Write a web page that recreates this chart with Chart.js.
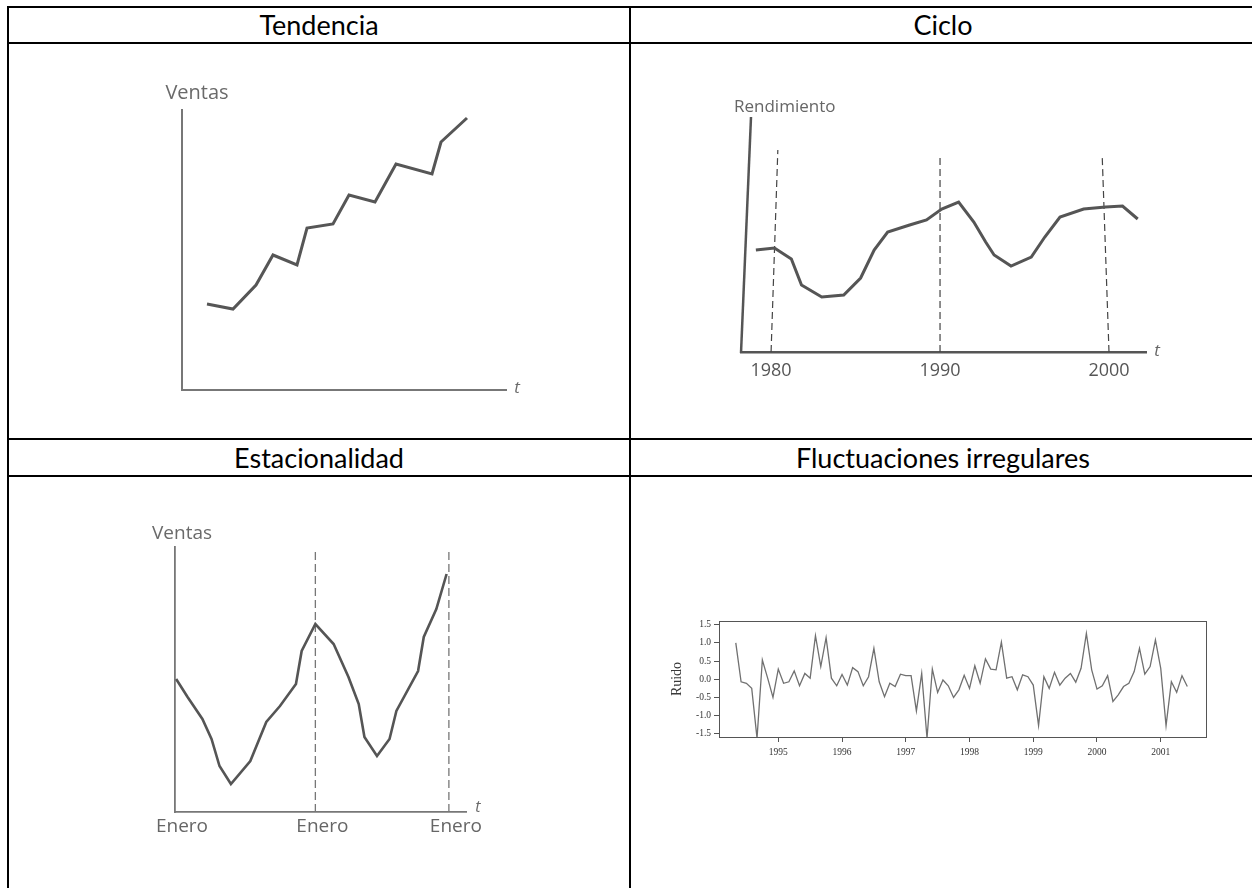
<!DOCTYPE html>
<html lang="es">
<head>
<meta charset="utf-8">
<title>Componentes de una serie de tiempo</title>
<script src="https://cdn.jsdelivr.net/npm/chart.js@4.4.1/dist/chart.umd.min.js"></script>
<style>
  html, body { margin: 0; padding: 0; background: #fff; width: 1252px; height: 888px; overflow: hidden; }
  body { position: relative; font-family: Lato, 'Open Sans', sans-serif; }
  .linea { position: absolute; background: #000; }
  .titulo { position: absolute; text-align: center; font-size: 27px; color: #000; }
  canvas { position: absolute; }
</style>
</head>
<body>
<!-- bordes de la tabla -->
<div class="linea" style="left:7px;top:6px;width:1249px;height:2px"></div>
<div class="linea" style="left:7px;top:6px;width:2px;height:890px"></div>
<div class="linea" style="left:7px;top:42px;width:1249px;height:2px"></div>
<div class="linea" style="left:629px;top:6px;width:2px;height:890px"></div>
<div class="linea" style="left:7px;top:438px;width:1249px;height:2px"></div>
<div class="linea" style="left:7px;top:475px;width:1249px;height:2px"></div>

<div class="titulo" style="left:9px;width:620px;top:8px;line-height:34px">Tendencia</div>
<div class="titulo" style="left:631px;width:624px;top:8px;line-height:34px">Ciclo</div>
<div class="titulo" style="left:9px;width:620px;top:440px;line-height:35px">Estacionalidad</div>
<div class="titulo" style="left:631px;width:624px;top:440px;line-height:35px">Fluctuaciones irregulares</div>

<canvas id="tendencia" width="430" height="360" style="left:120px;top:60px"></canvas>
<canvas id="ciclo" width="500" height="330" style="left:690px;top:70px"></canvas>
<canvas id="estacionalidad" width="400" height="360" style="left:110px;top:500px"></canvas>
<canvas id="ruido" width="580" height="170" style="left:650px;top:600px"></canvas>

<script>
// --- Datos: Tendencia ---
const tendT = [2.5, 5.1, 7.4, 9.1, 11.5, 12.5, 15.1, 16.7, 19.3, 21.4, 25.0, 25.9, 28.5];
const tendVentas = [8.6, 8.1, 10.5, 13.5, 12.5, 16.2, 16.6, 19.5, 18.8, 22.6, 21.6, 24.8, 27.2];

// --- Datos: Ciclo ---
const cicloAnios = [1979.1, 1980.2, 1981.2, 1981.8, 1983.0, 1984.3, 1985.3, 1986.1, 1986.9, 1988.2, 1989.2, 1990.1,
                    1991.1, 1992.0, 1992.7, 1993.2, 1994.2, 1995.4, 1996.2, 1997.1, 1998.5, 1999.8, 2000.8, 2001.7];
const cicloRend = [102, 104, 93, 67, 55, 57, 74, 102, 120, 127, 132, 143,
                   150, 130, 110, 97, 86, 95, 115, 135, 143, 145, 146, 133];
const cicloDecadas = [1980, 1990, 2000];
const cicloEtiquetas = ['1980', '1990', '2000'];
const cicloMarcaTope = [202, 198, 195];
const cicloMarcaInclin = [0.4, 0, -0.4];

// --- Datos: Estacionalidad ---
const estMeses = [0.1, 1.1, 2.4, 3.2, 3.9, 4.9, 6.6, 8.0, 9.2, 10.6, 11.1, 12.3,
                  13.9, 15.2, 16.1, 16.6, 17.7, 18.8, 19.4, 21.3, 21.8, 22.9, 23.8];
const estVentas = [133, 115, 93, 73, 46, 28, 51, 90, 106, 128, 161, 188,
                   168, 135, 108, 75, 56, 73, 101, 141, 175, 203, 238];
const estEneros = [0, 12.3, 24];
const estEtiquetas = ['Enero', 'Enero', 'Enero'];
const estMarcaTope = 262;

// --- Datos: Fluctuaciones irregulares (mensual desde mayo 1994) ---
const ruidoInicio = 1994 + 4 / 12;
const ruido = [1.0, -0.07, -0.11, -0.25, -1.62, 0.53, 0.03, -0.5, 0.28, -0.11, -0.07, 0.23,
               -0.18, 0.16, 0.03, 1.2, 0.35, 1.14, 0.03, -0.18, 0.13, -0.16, 0.32, 0.21,
               -0.18, 0.07, 0.85, -0.07, -0.48, -0.11, -0.2, 0.14, 0.1, 0.1, -0.87, 0.16,
               -1.62, 0.28, -0.36, -0.02, -0.18, -0.5, -0.29, 0.11, -0.25, 0.37, -0.11, 0.56,
               0.28, 0.26, 1.02, 0.03, 0.07, -0.29, 0.12, 0.07, -0.16, -1.27, 0.07, -0.25,
               0.19, -0.16, 0.03, 0.16, -0.08, 0.3, 1.26, 0.26, -0.27, -0.18, 0.1, -0.61,
               -0.43, -0.2, -0.11, 0.21, 0.85, 0.14, 0.35, 1.08, 0.3, -1.27, -0.07, -0.36,
               0.1, -0.2];
const ruidoAnios = [1995, 1996, 1997, 1998, 1999, 2000, 2001];
const ruidoTicks = [-1.5, -1.0, -0.5, 0, 0.5, 1.0, 1.5];

// Plugin para textos sueltos, eje inclinado y marco
const extras = {
    id: 'extras',
    afterDraw(chart, args, opts) {
        const { ctx, chartArea: a } = chart;
        ctx.save();
        if (opts.marco) {
            ctx.strokeStyle = opts.marco;
            ctx.lineWidth = 1;
            ctx.strokeRect(a.left + 0.5, a.top + 0.5, a.right - a.left, a.bottom - a.top);
        }
        if (opts.inclinado) {
            ctx.strokeStyle = opts.inclinado.color;
            ctx.lineWidth = opts.inclinado.ancho;
            ctx.beginPath();
            ctx.moveTo(a.left, a.bottom + 1);
            ctx.lineTo(a.left + opts.inclinado.dx, a.top);
            ctx.stroke();
        }
        (opts.textos || []).forEach(t => {
            ctx.font = t.font;
            ctx.fillStyle = t.color || '#666';
            ctx.textAlign = t.align || 'center';
            ctx.textBaseline = 'middle';
            const x = (t.desde === 'right' ? a.right : a.left) + t.dx;
            const y = (t.desdeY === 'bottom' ? a.bottom : a.top) + t.dy;
            ctx.fillText(t.text, x, y);
        });
        ctx.restore();
    }
};

const sinTicks = { display: false };
const sinGrid = { display: false, drawTicks: false };

function puntos(xs, ys) {
    return xs.map((x, i) => ({ x: x, y: ys[i] }));
}

function opcionesBase(padding, textos, extra) {
    return {
        responsive: false,
        animation: false,
        layout: { padding: padding },
        plugins: {
            legend: { display: false },
            tooltip: { enabled: false },
            extras: Object.assign({ textos: textos }, extra || {})
        }
    };
}

// Tendencia
const optTend = opcionesBase({ top: 50, right: 44, left: 0, bottom: 0 }, [
    { text: 'Ventas', font: '20px "Open Sans"', color: '#6a6a6a', dx: 15, dy: -17 },
    { text: 't', font: 'italic 17px "Open Sans"', color: '#6a6a6a', desde: 'right', desdeY: 'bottom', dx: 11, dy: -2 }
]);
optTend.scales = {
    x: { type: 'linear', min: 0, max: 32.4, grid: sinGrid, ticks: sinTicks, border: { color: '#777', width: 2 },
         afterFit: s => { s.height = 30; } },
    y: { type: 'linear', min: 0, max: 28, grid: sinGrid, ticks: sinTicks, border: { color: '#777', width: 2 },
         afterFit: s => { s.width = 62; } }
};
new Chart(document.getElementById('tendencia'), {
    type: 'line',
    data: { datasets: [{ data: puntos(tendT, tendVentas), borderColor: '#565656', borderWidth: 3, pointRadius: 0, tension: 0 }] },
    options: optTend,
    plugins: [extras]
});

// Ciclo
const optCiclo = opcionesBase({ top: 47, right: 44, left: 0, bottom: 0 }, [
    { text: 'Rendimiento', font: '17px "Open Sans"', color: '#666', align: 'left', dx: -7, dy: -10 },
    { text: 't', font: 'italic 17px "Open Sans"', color: '#666', desde: 'right', desdeY: 'bottom', dx: 11, dy: -1 }
], { inclinado: { dx: 10, color: '#555', ancho: 2.5 } });
optCiclo.scales = {
    x: { type: 'linear', min: 1978.22, max: 2002.19, grid: sinGrid, border: { color: '#555', width: 2.5 },
         afterBuildTicks: s => { s.ticks = cicloDecadas.map(v => ({ value: v })); },
         ticks: { padding: 8, color: '#555', font: { family: 'Open Sans', size: 18 }, callback: (v, i) => cicloEtiquetas[i] },
         afterFit: s => { s.height = 48; } },
    y: { type: 'linear', min: 0, max: 235, grid: sinGrid, ticks: sinTicks, border: { display: false },
         afterFit: s => { s.width = 51; } }
};
const cicloMarcas = cicloDecadas.map((d, i) => ({
    data: [{ x: d, y: 0 }, { x: d + cicloMarcaInclin[i], y: cicloMarcaTope[i] }],
    borderColor: '#444', borderWidth: 1.2, borderDash: [7, 4], pointRadius: 0
}));
new Chart(document.getElementById('ciclo'), {
    type: 'line',
    data: { datasets: [{ data: puntos(cicloAnios, cicloRend), borderColor: '#555', borderWidth: 3, pointRadius: 0, tension: 0 }].concat(cicloMarcas) },
    options: optCiclo,
    plugins: [extras]
});

// Estacionalidad
const optEst = opcionesBase({ top: 47, right: 44, left: 0, bottom: 0 }, [
    { text: 'Ventas', font: '19px "Open Sans"', color: '#6a6a6a', dx: 7, dy: -13 },
    { text: 't', font: 'italic 16px "Open Sans"', color: '#6a6a6a', desde: 'right', desdeY: 'bottom', dx: 12, dy: -5 }
]);
optEst.scales = {
    x: { type: 'linear', min: 0, max: 25.5, grid: sinGrid, border: { color: '#777', width: 1.8 },
         afterBuildTicks: s => { s.ticks = estEneros.map(v => ({ value: v })); },
         ticks: { padding: 3, labelOffset: 7, color: '#666', font: { family: 'Open Sans', size: 19 }, callback: (v, i) => estEtiquetas[i] },
         afterFit: s => { s.height = 48; } },
    y: { type: 'linear', min: 0, max: 265, grid: sinGrid, ticks: sinTicks, border: { color: '#777', width: 1.8 },
         afterFit: s => { s.width = 65; } }
};
const estMarcas = estEneros.slice(1).map(m => ({
    data: [{ x: m, y: 0 }, { x: m, y: estMarcaTope }],
    borderColor: '#777', borderWidth: 1.3, borderDash: [8, 4], pointRadius: 0
}));
new Chart(document.getElementById('estacionalidad'), {
    type: 'line',
    data: { datasets: [{ data: puntos(estMeses, estVentas), borderColor: '#555', borderWidth: 2.6, pointRadius: 0, tension: 0 }].concat(estMarcas) },
    options: optEst,
    plugins: [extras]
});

// Fluctuaciones irregulares
const serif = 'Liberation Serif';
const optRuido = opcionesBase({ top: 21, right: 24, left: 0, bottom: 0 }, [], { marco: '#555' });
optRuido.scales = {
    x: { type: 'linear', min: 1994.07, max: 2001.71,
         grid: { drawOnChartArea: false, tickLength: 5, color: '#555' }, border: { color: '#555', width: 1 },
         afterBuildTicks: s => { s.ticks = ruidoAnios.map(v => ({ value: v })); },
         ticks: { padding: 5, color: '#333', font: { family: serif, size: 9.5 }, callback: v => String(v) },
         afterFit: s => { s.height = 33; } },
    y: { type: 'linear', min: -1.585, max: 1.6,
         grid: { drawOnChartArea: false, tickLength: 5, color: '#555' }, border: { color: '#555', width: 1 },
         afterBuildTicks: s => { s.ticks = ruidoTicks.map(v => ({ value: v })); },
         ticks: { padding: 3, color: '#333', font: { family: serif, size: 9.5 }, callback: v => v.toFixed(1) },
         title: { display: true, text: 'Ruido', color: '#3a3a3a', font: { family: serif, size: 14 }, padding: { top: 19, bottom: 0 } },
         afterFit: s => { s.width = 69; } }
};
new Chart(document.getElementById('ruido'), {
    type: 'line',
    data: { datasets: [{ data: ruido.map((v, i) => ({ x: ruidoInicio + i / 12, y: v })), borderColor: '#707070', borderWidth: 1.3, pointRadius: 0, tension: 0 }] },
    options: optRuido,
    plugins: [extras]
});
</script>
</body>
</html>
